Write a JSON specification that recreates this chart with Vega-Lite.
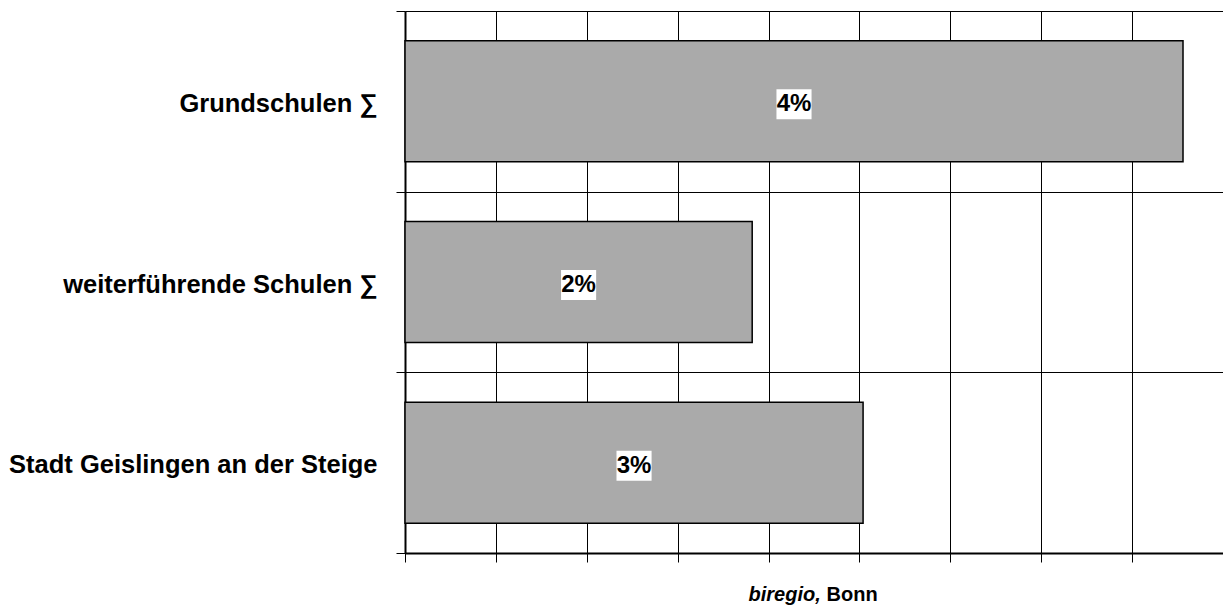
{
  "$schema": "https://vega.github.io/schema/vega-lite/v6.json",
  "width": 818,
  "height": 542,
  "autosize": {"type": "none"},
  "padding": {"left": 405, "top": 11, "right": 0, "bottom": 54},
  "background": "white",
  "config": {"view": {"stroke": null}, "font": "Liberation Sans", "axis": {"titleFontWeight": "bold"}},
  "data": {"values": [
    {"category": "Grundschulen ∑", "share": 0.0428},
    {"category": "weiterführende Schulen ∑", "share": 0.0191},
    {"category": "Stadt Geislingen an der Steige", "share": 0.0252}
  ]},
  "encoding": {
    "y": {
      "field": "category", "type": "nominal", "sort": null,
      "scale": {"paddingInner": 0, "paddingOuter": 0},
      "axis": {
        "title": null, "tickBand": "extent", "grid": true, "gridColor": "black", "gridWidth": 1,
        "domainColor": "black", "domainWidth": 2, "tickColor": "black", "tickSize": 9, "tickWidth": 1,
        "labelFontSize": 25.5, "labelFontWeight": "bold", "labelColor": "black", "labelPadding": 19,
        "labelLimit": 0, "labelFont": "Liberation Sans", "labelOffset": 2
      }
    }
  },
  "layer": [
    {
      "mark": {"type": "bar", "color": "#aaaaaa", "stroke": "black", "strokeWidth": 1.5, "height": {"band": 0.67}},
      "encoding": {
        "x": {
          "field": "share", "type": "quantitative",
          "scale": {"domain": [0, 0.045], "nice": false, "zero": true},
          "axis": {
            "orient": "bottom", "title": "Bonn", "titleFontWeight": 700,
            "titleFontSize": 20, "titleColor": "black", "titleFont": "Liberation Sans",
            "titleX": 421, "titleY": 47, "titleAlign": "left", "titleBaseline": "alphabetic",
            "labels": false, "values": [0, 0.005, 0.01, 0.015, 0.02, 0.025, 0.03, 0.035, 0.04, 0.045],
            "grid": true, "gridColor": "black", "gridWidth": 1,
            "domainColor": "black", "domainWidth": 2, "tickColor": "black", "tickSize": 9, "tickWidth": 1
          }
        }
      }
    },
    {
      "transform": [{"calculate": "datum.share / 2", "as": "mid"}],
      "mark": {"type": "point", "shape": "M-1.17,-1L1.17,-1L1.17,1L-1.17,1Z", "size": 900, "filled": true, "color": "white", "opacity": 1, "strokeWidth": 0, "yOffset": 3},
      "encoding": {
        "x": {
          "field": "mid", "type": "quantitative",
          "scale": {"domain": [0, 0.045], "nice": false, "zero": true},
          "axis": {
            "orient": "bottom", "title": "biregio,", "titleFontWeight": 700, "titleFontStyle": "italic", "titleFontSize": 20,
            "titleColor": "black", "titleFont": "Liberation Sans",
            "titleX": 343, "titleY": 47, "titleAlign": "left", "titleBaseline": "alphabetic",
            "labels": false, "grid": false, "ticks": false, "domain": false
          }
        }
      }
    },
    {
      "transform": [{"calculate": "datum.share / 2", "as": "mid"}],
      "mark": {"type": "text", "fontSize": 24, "fontWeight": "bold", "dy": 3, "baseline": "middle", "color": "black", "font": "Liberation Sans"},
      "encoding": {
        "x": {"field": "mid", "type": "quantitative", "scale": {"domain": [0, 0.045], "nice": false, "zero": true}, "axis": null},
        "text": {"field": "share", "type": "quantitative", "format": ".0%"}
      }
    }
  ],
  "resolve": {"axis": {"x": "independent"}}
}
